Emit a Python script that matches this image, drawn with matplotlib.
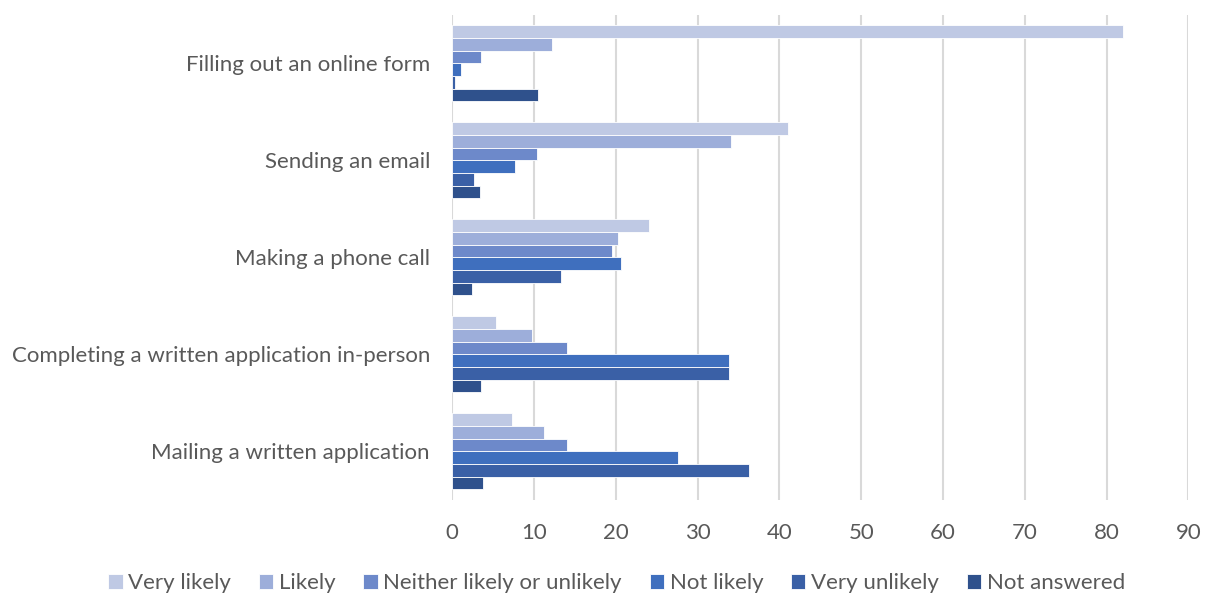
import numpy as np
import matplotlib
matplotlib.use('Agg')
import matplotlib.pyplot as plt

# Survey responses (%) by contact method
methods = ['Filling out an online form', 'Sending an email', 'Making a phone call',
           'Completing a written application in-person', 'Mailing a written application']
responses = ['Very likely', 'Likely', 'Neither likely or unlikely', 'Not likely',
             'Very unlikely', 'Not answered']

very_likely = [82.0, 41.1, 24.1, 5.3, 7.3]
likely = [12.2, 34.1, 20.3, 9.8, 11.2]
neither = [3.5, 10.4, 19.5, 14.0, 14.0]
not_likely = [1.1, 7.7, 20.6, 33.9, 27.6]
very_unlikely = [0.3, 2.7, 13.3, 33.9, 36.3]
not_answered = [10.5, 3.4, 2.4, 3.5, 3.8]

series = [very_likely, likely, neither, not_likely, very_unlikely, not_answered]
colors = ['#BFC9E4', '#9DAEDA', '#6D89CA', '#3F6FBE', '#3A60A6', '#2F518C']

plt.rcParams['font.family'] = ['Lato', 'DejaVu Sans']
text_color = '#595959'

fig = plt.figure(figsize=(12.09, 5.95), dpi=100)
ax = fig.add_axes([0.374, 0.160, 0.609, 0.815])

y = np.arange(len(methods))
h = 0.131
for i, (vals, col, name) in enumerate(zip(series, colors, responses)):
    ax.barh(y + (i - 2.5) * h, vals, height=h, color=col, label=name,
            edgecolor='white', linewidth=0.6, zorder=3)

ax.set_xlim(0, 90)
ax.set_ylim(len(methods) - 0.5, -0.5)
ax.set_xticks(range(0, 91, 10))
ax.set_yticks(y)
ax.set_yticklabels(methods)
ax.tick_params(axis='both', length=0, labelsize=16, colors=text_color)
ax.tick_params(axis='x', pad=17)
ax.tick_params(axis='y', pad=16)
ax.grid(axis='x', color='#D9D9D9', linewidth=1.5, zorder=0)
for s in ax.spines.values():
    s.set_visible(False)

handles, labels = ax.get_legend_handles_labels()
fig.legend(handles, labels, loc='center', bbox_to_anchor=(0.51, 0.02),
           ncol=6, frameon=False, fontsize=16, handlelength=0.65, handleheight=0.65,
           handletextpad=0.25, columnspacing=1.25, labelcolor=text_color)

fig.savefig('out.png', dpi=100)
